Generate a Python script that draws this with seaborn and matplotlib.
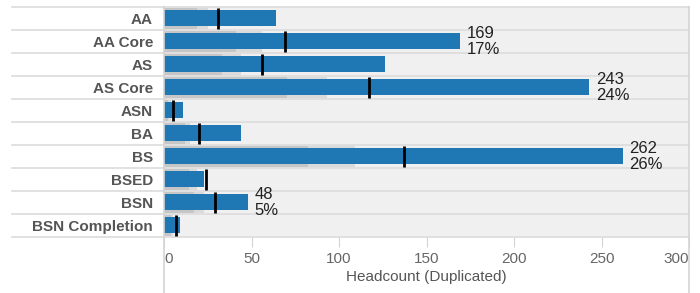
import pandas as pd
import matplotlib.pyplot as plt
import seaborn as sns

# Data
programs = ["AA", "AA Core", "AS", "AS Core", "ASN", "BA", "BS", "BSED", "BSN", "BSN Completion"]
headcount = [64, 169, 126, 243, 11, 44, 262, 23, 48, 9]
target = [31, 69, 56, 117, 5, 20, 137, 24, 29, 7]
band_low = [19, 41, 33, 70, 2, 12, 82, 14, 17, 4]
band_high = [25, 56, 44, 93, 4, 15, 109, 19, 23, 5]
labelled = ["AA Core", "AS Core", "BS", "BSN"]
xticks = [0, 50, 100, 150, 200, 250, 300]

df = pd.DataFrame({"program": programs, "headcount": headcount, "target": target,
                   "low": band_low, "high": band_high})
total = df["headcount"].sum()

plt.rcParams["font.family"] = ["Liberation Sans", "DejaVu Sans"]

fig = plt.figure(figsize=(7, 2.93), dpi=100)
ax = fig.add_axes([164 / 700, 1 - 236.7 / 293, 525 / 700, 230 / 293])
ax.set_facecolor("#f0f0f0")

# Reference bands, then the headcount bars
sns.barplot(data=df, x="high", y="program", color="#dadada", width=0.9,
            saturation=1, linewidth=0, ax=ax)
sns.barplot(data=df, x="low", y="program", color="#c6c6c6", width=0.9,
            saturation=1, linewidth=0, ax=ax)
sns.barplot(data=df, x="headcount", y="program", color="#1f77b4", width=0.68,
            saturation=1, linewidth=0, ax=ax)

# Target markers
ypos = range(len(df))
ax.vlines(df["target"], [y - 0.46 for y in ypos], [y + 0.46 for y in ypos],
          color="black", linewidth=2.0, zorder=5)

# Value / share labels
for y, row in df.iterrows():
    if row["program"] in labelled:
        pct = round(100 * row["headcount"] / total)
        ax.text(row["headcount"] + 3.8, y + 0.03, f"{row['headcount']}\n{pct}%",
                va="center", ha="left", fontsize=12, color="#222222",
                linespacing=1.1, zorder=6)

ax.set_xlim(0, 300)
ax.set_ylim(len(df) - 0.5, -0.5)

# Row separators stretching into the label column
for y in range(len(df) + 1):
    ax.axhline(y - 0.5, xmin=-0.29, xmax=1, color="#dcdcdc", linewidth=1.2,
               clip_on=False, zorder=4)

for s in ax.spines.values():
    s.set_visible(False)
ext = (293 - 236.7) / 230
ax.axvline(0, ymin=-ext, ymax=1, color="#d4d4d4", linewidth=1.2, clip_on=False, zorder=4)
ax.axvline(300, ymin=-ext, ymax=1, color="#d4d4d4", linewidth=1.2, clip_on=False, zorder=4)

ax.set_xticks(xticks)
ax.set_xticklabels([str(t) for t in xticks])
labels = ax.get_xticklabels()
labels[0].set_ha("left")
labels[-1].set_ha("right")
ax.tick_params(axis="x", length=7, color="#d4d4d4", labelsize=11, labelcolor="#666666", pad=4)
ax.set_xlabel("Headcount (Duplicated)", fontsize=11, color="#555555", labelpad=3)

ax.set_yticks(list(ypos))
ax.set_yticklabels(programs, fontsize=11, fontweight="bold", color="#555555")
ax.tick_params(axis="y", length=0, pad=8)
ax.set_ylabel("")

fig.savefig("out.png", dpi=100)
